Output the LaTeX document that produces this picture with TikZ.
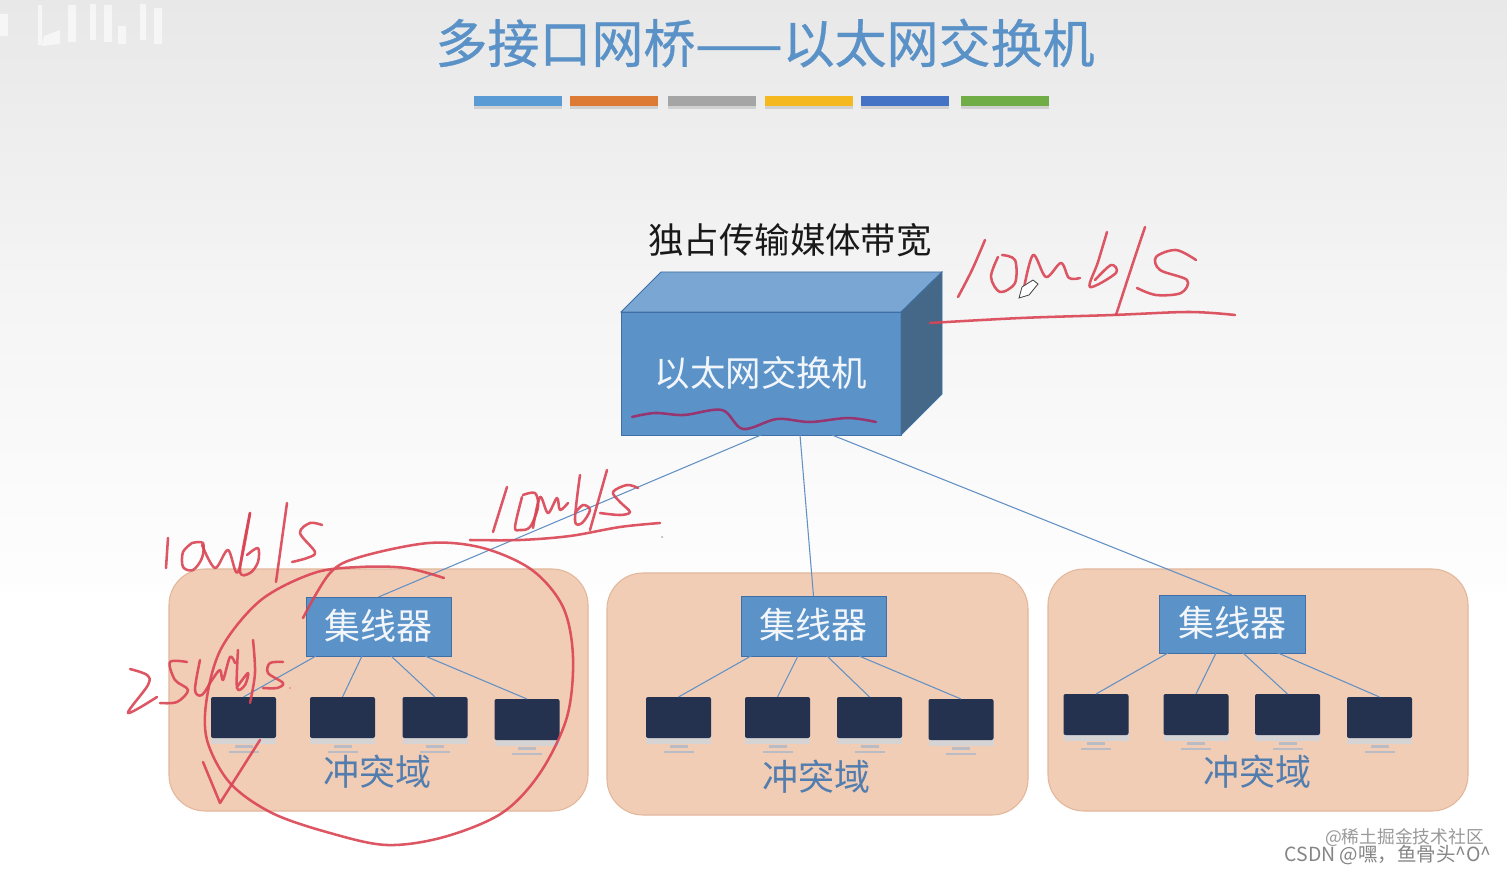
\documentclass[tikz,border=0pt]{standalone}
\usepackage{fontspec}
\setmainfont{Noto Sans CJK SC}
\newfontfamily\titlefont[FakeBold=0.7]{Noto Sans CJK SC}
\usetikzlibrary{calc}
\definecolor{inkred}{HTML}{DA4454}
\definecolor{inkdark}{HTML}{96356F}
\definecolor{linkblue}{HTML}{6391C4}
\definecolor{hubblue}{HTML}{5B93C9}
\definecolor{edgeblue}{HTML}{3F6FA6}
\definecolor{titleblue}{HTML}{5A92C8}
\definecolor{domfill}{HTML}{F2CDB5}
\definecolor{domedge}{HTML}{E2B79C}
\definecolor{screen}{HTML}{24314F}
\definecolor{bezel}{HTML}{D6D3D4}
\definecolor{standc}{HTML}{B9BCC4}
\tikzset{
  x=0.75pt,y=-0.75pt,
  sz/.style 2 args={minimum width=#1*0.75pt,minimum height=#2*0.75pt,inner sep=0pt,outer sep=0pt},
  domainbox/.style={draw=domedge,line width=0.8pt,fill=domfill,rounded corners=27pt},
  hubbox/.style={draw=edgeblue,line width=0.6pt,fill=hubblue,text=white!92!hubblue,font=\fontsize{27}{30}\selectfont},
  screenbox/.style={fill=screen,rounded corners=1.5pt,sz={65}{41}},
  domtext/.style={text=edgeblue!90!white,font=\fontsize{27}{30}\selectfont,inner sep=0pt},
  link/.style={draw=linkblue,line width=0.8pt},
  ink/.style={draw=inkred,line width=1.9pt,line cap=round,line join=round,opacity=0.9},
  colorbar/.style={sz={88}{10}},
}
\newcommand{\pcunit}[3]{%
  \fill[bezel] (#2-32.5,#3+38) rectangle (#2+32.5,#3+47);
  \fill[standc] (#2-9,#3+48) rectangle (#2+9,#3+51);
  \fill[standc] (#2-15,#3+54) rectangle (#2+15,#3+56);
  \node[screenbox] (#1) at (#2,#3+20.5) {};
}
\newcommand{\inkpath}[2][]{\draw[ink,#1] plot[smooth,tension=0.55] coordinates {#2};}
\begin{document}
\begin{tikzpicture}
\useasboundingbox (0,0) rectangle (1507,873);
\fill[white] (0,0) rectangle (1507,873);
\shade[top color=black!9,bottom color=black!4] (0,0) rectangle (1507,300);
\shade[top color=black!4,bottom color=black!0.5] (0,300) rectangle (1507,590);
% ghost text top left
\fill[white,opacity=.6] (0,14) rectangle (8,36) (38,5) rectangle (42,45) (44,36) -- (60,30) -- (60,44) -- (42,46) -- cycle
 (68,5) rectangle (76,42) (90,4) rectangle (96,40) (104,5) rectangle (112,42) (118,26) rectangle (126,44) (140,4) rectangle (146,40) (154,8) rectangle (162,44);
% title
\node[text=titleblue,font=\titlefont\fontsize{39}{44}\selectfont,inner sep=0pt] (title) at (765,43) {多接口网桥——以太网交换机};
% colour bars
\foreach \n/\cx/\c in {a/518/5B9BD5,b/614/DD7A33,c/712/A5A5A5,d/809/F5B81F,e/905/4472C4,f/1005/70AD47}{
  \definecolor{barc}{HTML}{\c}
  \fill[black!18] (\cx-44,102) rectangle (\cx+44,109);
  \node[colorbar,fill=barc] (bar\n) at (\cx,101) {};
}
% caption
\node[font=\fontsize{26.6}{30}\selectfont,text=black!90,inner sep=0pt] (cap) at (790,240) {独占传输媒体带宽};
% collision domains
\node[domainbox,sz={419}{242}] (d1) at (378.5,690) {};
\node[domainbox,sz={421}{242}] (d2) at (817.5,694) {};
\node[domainbox,sz={420}{242}] (d3) at (1258,690) {};
\node[domtext] (t1) at (377,772) {冲突域};
\node[domtext] (t2) at (816,777) {冲突域};
\node[domtext] (t3) at (1257,772) {冲突域};
% computers
\pcunit{p11}{243.5}{697}\pcunit{p12}{342.5}{697}\pcunit{p13}{435}{697}\pcunit{p14}{527}{699}
\pcunit{p21}{678.5}{697}\pcunit{p22}{777.5}{697}\pcunit{p23}{869.5}{697}\pcunit{p24}{961}{699}
\pcunit{p31}{1096}{694}\pcunit{p32}{1196}{694}\pcunit{p33}{1287.5}{694}\pcunit{p34}{1379.5}{697}
% switch
\node[sz={280}{123},draw=edgeblue,line width=0.6pt,fill=hubblue,text=white!92!hubblue,font=\fontsize{26.6}{30}\selectfont,text depth=3pt] (sw) at (761,373.5) {以太网交换机};
\filldraw[draw=edgeblue,line width=0.6pt,fill=hubblue!82!white] (sw.north west) -- ++(40,-40) -- ++(281,0) -- (sw.north east) -- cycle;
\filldraw[draw=edgeblue,line width=0.6pt,fill=hubblue!65!black!95!white] (sw.north east) -- ++(41,-40) -- ++(0,122) -- (sw.south east) -- cycle;
% hubs
\node[hubbox,sz={145}{59},text depth=4pt] (h1) at (378.5,626.5) {集线器};
\node[hubbox,sz={145}{60},text depth=4pt] (h2) at (813.5,626) {集线器};
\node[hubbox,sz={146}{58},text depth=4pt] (h3) at (1232,624) {集线器};
% uplinks
\draw[link] (sw.south) -- (h1.north);
\draw[link] ($(sw.south)+(39,0)$) -- (h2.north);
\draw[link] ($(sw.south)+(71,0)$) -- (h3.north);
% downlinks
\draw[link] ($(h1.south west)+(10,0)$) -- (p11.north);
\draw[link] ($(h1.south west)+(56,0)$) -- (p12.north);
\draw[link] ($(h1.south west)+(85,0)$) -- (p13.north);
\draw[link] ($(h1.south west)+(119,0)$) -- (p14.north);
\draw[link] ($(h2.south west)+(10,0)$) -- (p21.north);
\draw[link] ($(h2.south west)+(57,0)$) -- (p22.north);
\draw[link] ($(h2.south west)+(86,0)$) -- (p23.north);
\draw[link] ($(h2.south west)+(118,0)$) -- (p24.north);
\draw[link] ($(h3.south west)+(9,0)$) -- (p31.north);
\draw[link] ($(h3.south west)+(57,0)$) -- (p32.north);
\draw[link] ($(h3.south west)+(84,0)$) -- (p33.north);
\draw[link] ($(h3.south west)+(119,0)$) -- (p34.north);
% handwriting: top right 10Mb/S
\inkpath{(985,240) (972,270) (958,297)}
\inkpath{(998,257) (991,277) (1000,292) (1015,283) (1015,260) (1002,255)}
\inkpath{(1023,293) (1033,255) (1046,277) (1061,263) (1069,278) (1080,278)}
\inkpath{(1107,232) (1098,262) (1090,287) (1116,273) (1111,265) (1095,280)}
\inkpath{(1145,227) (1130,272) (1116,315)}
\inkpath{(1196,260) (1176,250) (1156,257) (1160,270) (1187,280) (1181,293) (1156,295) (1137,288)}
\inkpath{(930,323) (1021,318) (1113,315) (1189,312) (1235,315)}
\inkpath[draw=inkdark,opacity=1]{(632,417) (655,413) (684,415) (722,410) (743,429) (777,419) (810,422) (848,418) (876,422)}
% handwriting: middle 10Mb/S
\inkpath{(507,487) (493,532)}
\inkpath{(522,497) (515,527) (520,530) (530,527) (538,507) (535,493) (523,495)}
\inkpath{(533,528) (540,497) (548,513) (557,498) (560,510) (568,503)}
\inkpath{(580,475) (575,520) (582,523) (590,510) (583,505) (575,513)}
\inkpath{(607,470) (590,530)}
\inkpath{(638,488) (627,485) (613,492) (620,502) (630,512) (620,515) (600,513)}
\inkpath{(470,540) (520,540) (570,536) (620,527) (660,523)}
\fill[black!35] (662,537) circle[radius=1];
% handwriting: left 10Mb/S
\inkpath{(168,538) (166,568)}
\inkpath{(192,543) (183,552) (183,567) (193,570) (202,558) (203,543) (192,543)}
\inkpath{(202,545) (215,568) (228,550) (238,572) (250,513)}
\inkpath{(250,513) (240,570) (250,573) (258,562) (258,548) (247,555)}
\inkpath{(287,503) (276,582)}
\inkpath{(322,525) (310,523) (300,533) (315,552) (307,558) (292,562)}
% handwriting: 2.5Mb/s
\inkpath{(130,669) (147,675) (148,685) (128,713) (157,697)}
\inkpath{(187,662) (170,662) (175,680) (188,690) (177,702) (160,703)}
\inkpath{(200,660) (195,690) (202,695) (212,680) (220,670) (223,680) (230,657) (235,663)}
\inkpath{(238,650) (237,688) (245,685) (248,673) (237,687)}
\inkpath{(253,640) (255,673) (250,703)}
\inkpath{(283,662) (270,663) (268,673) (283,683) (277,688) (263,688)}
\fill[inkred,opacity=.5] (290,688) circle[radius=1];
% circle and tick
\inkpath{(303,618) (330,573) (360,557) (429,543) (483,548) (532,570) (563,607) (573,657) (567,717) (540,773) (502,813) (444,837) (387,845) (330,833) (272,813) (230,783) (207,740) (207,697) (222,647) (261,600) (314,573) (360,567) (406,568) (444,578)}
\draw[ink] (203,762) -- (220,803) -- (260,740);
% pen cursor
\filldraw[fill=white,draw=black!75,line width=0.6pt] (1019,298) -- (1022,287) -- (1033,280) -- (1038,284) -- (1029,295) -- cycle;
% watermarks
\node[text=black!40,font=\fontsize{13.3}{15}\selectfont,inner sep=0pt,anchor=east] (wm1) at (1484,838) {@稀土掘金技术社区};
\node[text=black!48,font=\fontsize{14.6}{16}\selectfont,inner sep=0pt,anchor=east] (wm2) at (1492,855) {CSDN @嘿，鱼骨头\^{}O\^{}};
\end{tikzpicture}
\end{document}
